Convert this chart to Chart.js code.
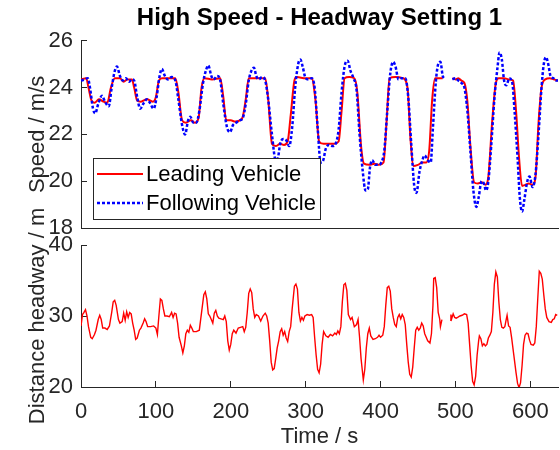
<!DOCTYPE html>
<html>
<head>
<meta charset="UTF-8">
<title>High Speed - Headway Setting 1</title>
<script src="https://cdn.jsdelivr.net/npm/chart.js"></script>
<style>
  body { margin: 0; background: #fff; }
  #wrap { position: relative; width: 560px; height: 450px; }
  #wrap canvas { position: absolute; left: 0; top: 0; }
</style>
</head>
<body>
<div id="wrap">
  <canvas id="speedChart" width="560" height="450"></canvas>
  <canvas id="gapChart" width="560" height="450"></canvas>
</div>
<script>
// speed of leading vehicle (m/s), null = no data
const leadTime = [0,7,10,14,18,24,30,35,40,45,52,57,62,68,71,75,80,88,96,100,104,108,120,126,130,135,140,147,152,157,161,165,175,186,190,194,200,206,212,216,220,224,235,246,250,255,260,266,271,276,280,285,288,300,308,313,318,324,332,338,344,348,352,358,365,369,374,378,385,392,398,404,408,412,420,430,436,440,444,450,456,461,465,469,473,478,483,489,496,500,504,508,512,516,520,525,530,535,540,544,549,554,558,565,572,577,581,585,589,594,598,603,607,611,615,620,626,631,637];
const leadSpeed = [24.35,24.4,24.0,23.45,23.35,23.5,23.4,23.35,24.0,24.4,24.4,24.25,24.35,24.35,24.0,23.45,23.4,23.5,23.4,23.6,24.3,24.4,24.4,24.4,23.8,22.6,22.5,22.6,22.5,22.7,24.0,24.4,24.35,24.4,23.6,22.6,22.6,22.55,22.6,22.75,23.5,24.4,24.4,24.4,23.5,21.6,21.5,21.6,21.55,21.7,22.8,24.3,24.45,24.4,24.4,23.5,21.7,21.6,21.6,21.6,21.7,23.0,24.4,24.45,24.4,23.8,21.5,20.75,20.7,20.75,20.7,20.8,22.5,24.4,24.45,24.4,24.0,21.8,20.65,20.7,20.8,20.8,21.3,23.5,24.4,24.4,24.4,null,24.4,24.35,24.4,24.3,24.2,23.4,21.5,19.95,19.9,19.95,19.85,20.2,22.5,24.2,24.4,24.4,24.35,24.3,23.0,21.0,19.8,19.85,19.9,19.85,20.2,22.5,24.0,24.35,24.4,24.35,24.3];

// speed of following vehicle (m/s)
const followTime = [0,5,9,12,16,19,23,28,32,37,41,45,48,52,56,60,64,68,71,75,79,84,88,92,97,101,105,108,112,116,121,126,130,135,139,143,146,150,154,158,163,167,170,174,177,182,186,190,195,199,203,207,212,216,220,224,228,231,234,237,242,246,250,255,260,263,266,270,274,278,282,286,290,293,296,300,304,308,312,316,320,323,327,331,336,340,344,348,352,356,360,364,368,372,376,380,383,386,389,393,397,401,405,409,413,417,420,424,428,433,437,441,445,448,452,455,459,463,467,470,474,477,480,483,485,490,496,500,504,508,512,516,520,524,528,531,535,538,541,544,548,552,556,559,562,565,568,572,576,579,583,586,589,592,596,599,603,607,611,615,618,621,624,627,631,634,637];
const followSpeed = [24.3,24.35,24.4,24.0,23.1,22.9,23.3,23.65,23.4,23.2,24.0,24.7,24.9,24.5,24.3,24.4,24.25,24.35,24.3,23.6,23.1,23.35,23.5,23.35,23.1,23.6,24.5,24.8,24.5,24.35,24.45,24.3,23.5,22.4,22.0,22.6,22.75,22.5,22.5,23.0,24.2,24.75,24.95,24.5,24.35,24.5,24.3,23.3,22.3,22.1,22.4,22.5,22.6,22.7,23.3,24.3,24.75,24.85,24.5,24.35,24.45,24.3,23.5,22.0,20.9,21.0,21.6,21.8,21.75,21.5,22.3,24.0,25.0,25.2,24.9,24.4,24.35,24.4,24.0,22.3,20.8,20.85,21.4,21.55,21.5,21.6,22.2,23.8,24.9,25.15,24.7,24.4,23.9,22.0,20.5,19.6,19.65,20.6,20.9,20.7,20.7,20.8,21.3,23.0,24.6,25.1,24.9,24.35,24.4,24.4,23.6,21.6,19.8,19.5,20.4,20.8,21.1,20.9,20.8,22.3,24.3,25.0,25.1,24.5,24.4,null,24.35,24.4,24.3,24.2,24.0,23.0,21.3,19.6,18.9,19.3,20.0,19.9,19.6,20.0,21.6,23.5,24.8,25.5,25.2,24.3,24.1,24.4,24.2,23.0,21.0,19.3,18.7,19.2,20.0,20.2,19.75,20.3,22.0,24.0,25.0,25.3,25.0,24.5,24.4,24.3,24.3];

// distance headway (m)
const gapTime = [0,2,4,6,8,10,13,15,18,20,23,25,27,29,32,35,38,41,43,45,47,50,52,55,57,59,61,63,65,67,69,71,73,75,78,80,83,85,87,89,93,97,100,102,104,106,108,110,112,115,118,121,123,125,127,129,131,134,136,138,140,142,144,146,148,150,154,158,161,164,166,168,170,172,174,176,178,180,182,184,187,190,192,194,196,198,200,202,204,207,210,213,216,218,220,222,224,226,228,230,232,234,237,240,243,246,248,250,252,254,256,258,260,262,264,266,268,270,272,274,276,278,280,282,285,287,289,291,293,295,297,299,302,305,308,310,312,314,316,318,320,322,324,327,330,333,336,339,341,343,345,347,349,351,353,355,357,360,362,365,368,370,372,374,376,377,379,381,383,385,387,390,393,396,398,400,403,405,407,409,411,413,415,417,419,421,423,425,427,429,431,433,435,437,439,441,443,445,447,449,451,453,455,457,459,461,463,466,468,470,471,473,475,477,479,480,482,488,493,494,495,497,499,501,503,506,509,512,515,517,519,521,523,525,527,529,531,532,534,536,538,540,542,544,546,548,550,552,554,556,558,560,562,564,566,568,569,571,573,575,578,581,583,585,587,589,591,593,595,597,599,601,604,606,608,610,612,614,616,618,620,622,625,628,630,632,634,636];
const gapDist = [28.6,30.2,30.5,30.9,30.0,28.5,27.0,26.8,27.4,28.0,29.5,30.1,29.5,28.3,28.3,28.1,28.6,30.5,32.0,32.2,31.5,29.5,29.0,29.2,30.4,29.4,30.6,29.8,30.5,30.3,29.0,28.0,26.7,26.9,28.0,28.3,29.0,29.6,29.2,28.5,28.5,28.6,28.3,27.4,30.0,32.4,32.2,31.0,30.0,30.0,29.9,30.5,29.8,30.4,30.3,29.0,27.0,25.8,24.8,25.8,27.5,28.0,27.7,28.7,28.3,27.8,27.8,28.0,30.5,33.0,33.4,32.4,30.3,30.0,29.5,29.0,30.4,30.8,30.0,29.7,29.6,29.5,30.0,29.2,26.5,25.2,26.0,27.5,28.0,27.6,28.3,28.4,28.5,27.8,28.4,30.5,33.2,33.8,33.3,31.0,29.8,30.2,30.0,29.3,30.0,30.4,30.0,29.0,26.5,23.5,22.4,22.6,24.0,25.5,26.5,27.8,28.2,27.3,27.8,26.9,26.4,27.8,28.5,31.0,34.2,34.5,33.8,30.5,29.3,29.8,29.4,30.0,30.2,30.1,30.2,29.8,27.0,24.5,22.5,22.0,23.2,26.0,27.8,27.2,27.0,27.4,27.2,27.6,27.4,27.9,27.5,28.5,32.0,34.4,34.6,33.6,30.2,29.5,29.8,28.5,28.8,29.5,27.0,24.0,22.0,21.0,22.5,25.5,27.5,28.3,27.2,26.7,26.8,27.0,27.3,27.0,27.3,28.5,31.5,34.0,34.2,33.5,31.0,29.8,28.8,28.5,29.8,30.2,29.6,30.2,29.8,28.8,26.0,23.5,21.8,21.4,22.8,25.5,28.0,28.4,28.0,28.3,29.0,28.6,27.5,27.0,26.5,26.2,27.5,31.5,35.3,35.4,34.0,30.5,29.6,28.5,29.5,null,29.4,30.2,29.6,30.3,29.8,29.7,29.8,30.0,30.1,30.3,30.2,29.0,26.0,23.0,20.8,20.3,21.5,24.5,26.5,27.2,26.8,25.8,26.1,25.8,26.0,26.9,27.3,27.8,30.5,34.5,36.2,35.5,32.0,29.5,28.4,28.3,28.5,29.6,30.1,28.6,28.4,27.0,24.5,22.0,20.5,19.9,20.6,23.0,26.0,27.3,27.6,27.5,26.6,26.0,25.9,26.2,28.5,32.5,36.3,36.0,35.2,33.0,31.0,29.8,29.2,29.1,29.5,29.6,30.2,30.1];

const FONT = "'Liberation Sans', Arial, Helvetica, sans-serif";
const AXIS = '#262626';

function pts(xs, ys) {
  return xs.map((x, i) => ({ x: x, y: ys[i] }));
}

// legend drawn inside the plot, lower left, with a box
const boxLegend = {
  id: 'boxLegend',
  afterDraw(chart) {
    const { ctx, chartArea } = chart;
    const w = 227, h = 61;
    const x = Math.round(chartArea.left) + 12;
    const y = Math.round(chartArea.bottom) - 9 - h;
    ctx.save();
    ctx.fillStyle = '#fff';
    ctx.fillRect(x, y, w, h);
    ctx.strokeStyle = AXIS;
    ctx.lineWidth = 1;
    ctx.strokeRect(x + 0.5, y + 0.5, w, h);
    ctx.font = '22px ' + FONT;
    ctx.textBaseline = 'middle';
    chart.data.datasets.forEach((ds, i) => {
      const ly = y + 16 + i * 29;
      ctx.strokeStyle = ds.borderColor;
      ctx.lineWidth = ds.borderWidth;
      ctx.setLineDash(ds.borderDash || []);
      ctx.beginPath();
      ctx.moveTo(x + 4, ly);
      ctx.lineTo(x + 50, ly);
      ctx.stroke();
      ctx.setLineDash([]);
      ctx.fillStyle = '#000';
      ctx.fillText(ds.label, x + 53, ly + 1);
    });
    ctx.restore();
  }
};

const tickFont = { family: FONT, size: 22 };

// fixed axis sizes so both plots share the same left/right edges
const fixY = s => { s.width = 81; };
const fixX = h => s => { s.height = h; s.paddingLeft = 0; s.paddingRight = 0; };

new Chart(document.getElementById('speedChart'), {
  type: 'line',
  data: {
    datasets: [
      { label: 'Leading Vehicle', data: pts(leadTime, leadSpeed), borderColor: '#ff0000', borderWidth: 2,
        pointRadius: 0, cubicInterpolationMode: 'monotone', order: 1 },
      { label: 'Following Vehicle', data: pts(followTime, followSpeed), borderColor: '#0000ff', borderWidth: 2.5,
        borderDash: [3, 2], pointRadius: 0, cubicInterpolationMode: 'monotone', order: 0 }
    ]
  },
  options: {
    responsive: false,
    animation: false,
    devicePixelRatio: 1,
    events: [],
    layout: { padding: { top: 0, left: 0, right: 2, bottom: 222 } },
    plugins: {
      legend: { display: false },
      tooltip: { enabled: false },
      title: {
        display: true, text: 'High Speed - Headway Setting 1', fullSize: false, color: '#000',
        font: { family: FONT, size: 24, weight: 'bold' }, padding: { top: 4, bottom: 8 }
      }
    },
    scales: {
      x: {
        type: 'linear', min: 0, max: 637,
        afterFit: fixX(0),
        ticks: { display: false },
        grid: { drawOnChartArea: false, drawTicks: false },
        border: { color: AXIS, width: 1 }
      },
      y: {
        min: 18, max: 26,
        afterFit: fixY,
        ticks: { stepSize: 2, color: AXIS, font: tickFont, padding: 14 },
        grid: { drawOnChartArea: false, tickLength: -6, color: AXIS },
        border: { color: AXIS, width: 1 },
        title: { display: true, text: 'Speed / m/s', color: AXIS, font: tickFont, padding: { top: 25, bottom: 0 } }
      }
    }
  },
  plugins: [boxLegend]
});

new Chart(document.getElementById('gapChart'), {
  type: 'line',
  data: {
    datasets: [
      { label: 'Distance headway', data: pts(gapTime, gapDist), borderColor: '#ff0000', borderWidth: 1.4, pointRadius: 0 }
    ]
  },
  options: {
    responsive: false,
    animation: false,
    devicePixelRatio: 1,
    events: [],
    layout: { padding: { top: 245, left: 0, right: 2, bottom: 0 } },
    plugins: { legend: { display: false }, tooltip: { enabled: false } },
    scales: {
      x: {
        type: 'linear', min: 0, max: 637,
        afterFit: fixX(63),
        ticks: { stepSize: 100, includeBounds: false, color: AXIS, font: tickFont, padding: 18 },
        grid: { drawOnChartArea: false, tickLength: -6, color: AXIS },
        border: { color: AXIS, width: 1 },
        title: { display: true, text: 'Time / s', color: AXIS, font: tickFont, padding: 0 }
      },
      y: {
        min: 20, max: 40,
        afterFit: fixY,
        ticks: { stepSize: 10, color: AXIS, font: tickFont, padding: 14 },
        grid: { drawOnChartArea: false, tickLength: -6, color: AXIS },
        border: { color: AXIS, width: 1 },
        title: { display: true, text: 'Distance headway / m', color: AXIS, font: tickFont, padding: { top: 25, bottom: 0 } }
      }
    }
  }
});
</script>
</body>
</html>
